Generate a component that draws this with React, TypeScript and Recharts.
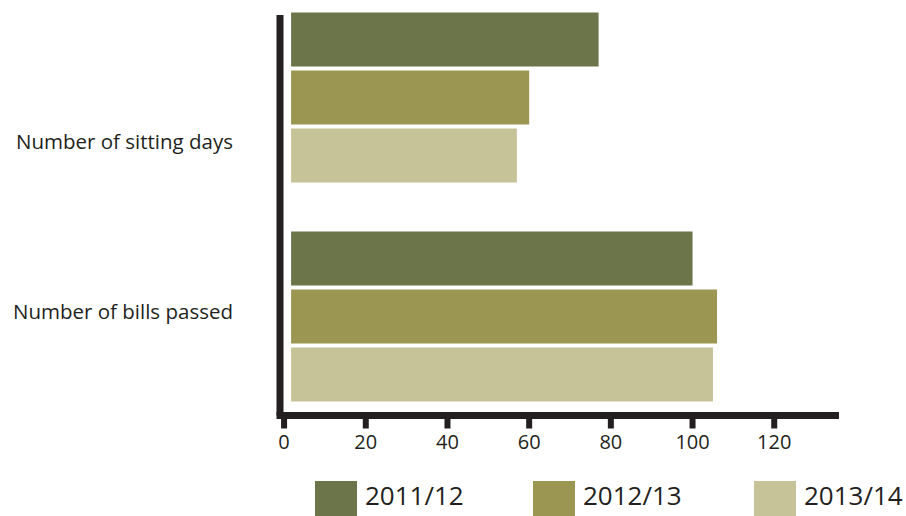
import React from 'react';
import { BarChart, Bar, XAxis, YAxis, Legend } from 'recharts';

const categories = ['Number of sitting days', 'Number of bills passed'];
const seriesNames = ['2011/12', '2012/13', '2013/14'];
const values201112 = [77, 100];
const values201213 = [60, 106];
const values201314 = [57, 105];
const xTicks = [0, 20, 40, 60, 80, 100, 120];

const colors = ['#6b7549', '#9c9653', '#c7c398'];
const ink = '#231f20';
const font = '"Open Sans", sans-serif';

const data = categories.map((name, i) => ({
    name,
    [seriesNames[0]]: values201112[i],
    [seriesNames[1]]: values201213[i],
    [seriesNames[2]]: values201314[i],
}));

// the labels sit off the band centres in the original
const labelShift = [44, -5];

const CategoryTick = (props: any) => {
    const { x, y, payload, index } = props;
    return (
        <text x={x} y={y + labelShift[index]} dy="0.36em" textAnchor="end"
            fontSize={20.5} fontFamily={font} fill={ink}>
            {payload.value}
        </text>
    );
};

// bars start a little to the right of the axis line
const GapBar = (props: any) => {
    const { x, y, width, height, fill } = props;
    return <rect x={x + 7} y={y} width={Math.max(width - 7, 0)} height={height} fill={fill} />;
};

const legendX = [315, 533, 754];

const LegendContent = (props: any) => {
    const items = props.payload || [];
    return (
        <svg width={906} height={45} style={{ display: 'block' }}>
            {items.map((item: any, i: number) => (
                <g key={item.value}>
                    <rect x={legendX[i]} y={10} width={42} height={36} fill={item.color} />
                    <text x={legendX[i] + 50} y={34} fontSize={26} fontFamily={font} fill={ink}>
                        {item.value}
                    </text>
                </g>
            ))}
        </svg>
    );
};

export default function App() {
    return (
        <div style={{ position: 'absolute', left: 0, top: 0, background: '#fff' }}>
            <BarChart
                width={906}
                height={516}
                data={data}
                layout="vertical"
                margin={{ top: 15, right: 70.5, left: 0, bottom: 0 }}
                barCategoryGap={24}
                barGap={4}
            >
                <XAxis
                    type="number"
                    domain={[-1, 135]}
                    ticks={xTicks}
                    height={55.5}
                    axisLine={{ stroke: ink, strokeWidth: 7, strokeLinecap: 'square' }}
                    tickLine={{ stroke: ink, strokeWidth: 6 }}
                    tickSize={13}
                    tickMargin={6}
                    tick={{ fontSize: 20, fontFamily: font, fill: ink }}
                />
                <YAxis
                    type="category"
                    dataKey="name"
                    width={280}
                    padding={{ top: -26.5, bottom: -11 }}
                    axisLine={{ stroke: ink, strokeWidth: 7 }}
                    tickLine={false}
                    tickSize={0}
                    tickMargin={47}
                    tick={<CategoryTick />}
                />
                <Legend
                    verticalAlign="bottom"
                    content={<LegendContent />}
                    wrapperStyle={{ left: 0, bottom: 0, width: 906, height: 45 }}
                />
                {seriesNames.map((s, i) => (
                    <Bar key={s} dataKey={s} fill={colors[i]} shape={<GapBar />} isAnimationActive={false} />
                ))}
            </BarChart>
        </div>
    );
}
